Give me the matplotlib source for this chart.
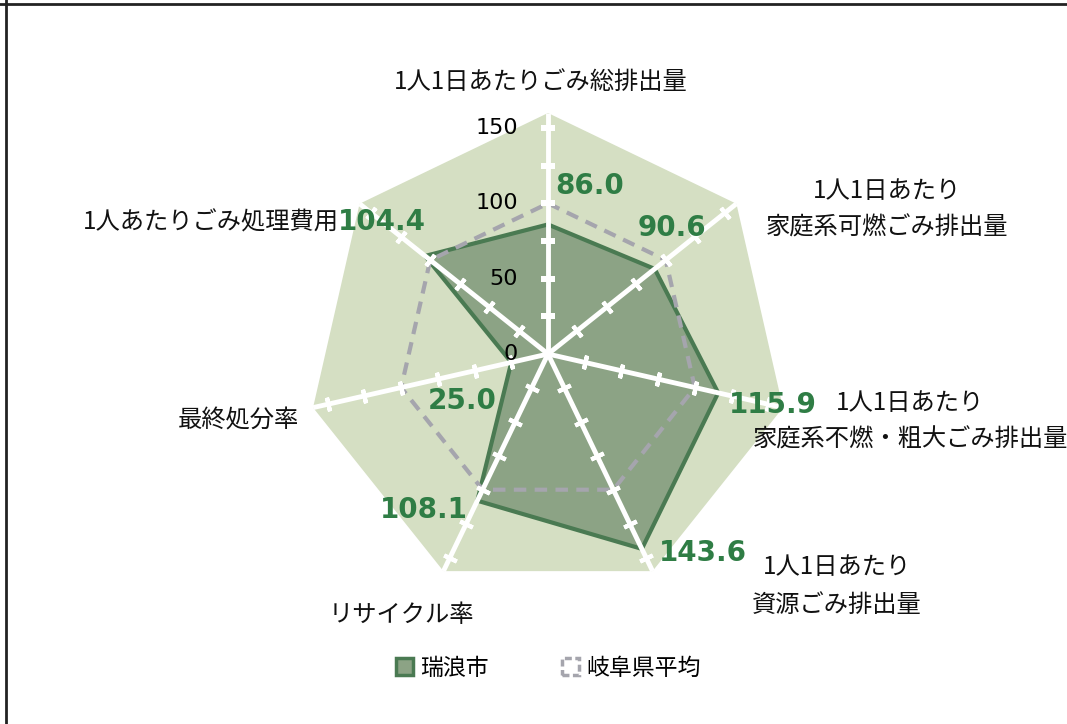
import numpy as np
import matplotlib.pyplot as plt
from matplotlib.lines import Line2D
from matplotlib.patches import Patch

plt.rcParams['font.family'] = ['Noto Sans CJK JP', 'DejaVu Sans']

categories = ['1人1日あたりごみ総排出量', '1人1日あたり\n家庭系可燃ごみ排出量',
              '1人1日あたり\n家庭系不燃・粗大ごみ排出量', '1人1日あたり\n資源ごみ排出量',
              'リサイクル率', '最終処分率', '1人あたりごみ処理費用']
mizunami = [86.0, 90.6, 115.9, 143.6, 108.1, 25.0, 104.4]
gifu_avg = [100, 100, 100, 100, 100, 100, 100]
r_max = 160
tick_vals = [0, 50, 100, 150]
minor_vals = [25, 50, 75, 100, 125, 150]

bg_green = '#d5dfc3'
fill_green = '#8ca385'
edge_green = '#4a7a52'
label_green = '#2f7d45'
dash_grey = '#a5a5ad'

n = len(categories)
theta = np.arange(n) * 2 * np.pi / n
theta_c = np.append(theta, theta[0])

fig = plt.figure(figsize=(10.67, 7.24), dpi=100)
R = 241
ax = fig.add_axes([(548 - R) / 1067, (370 - R) / 724, 2 * R / 1067, 2 * R / 724],
                  projection='polar')
ax.set_theta_offset(np.pi / 2)
ax.set_theta_direction(-1)
ax.set_ylim(0, r_max)
ax.grid(False)
ax.spines['polar'].set_visible(False)
ax.set_xticks([])
ax.set_yticks([])
ax.patch.set_alpha(0)

# outer background heptagon
ax.fill(theta_c, [r_max] * (n + 1), color=bg_green, lw=0, zorder=1)

# series
ax.fill(theta_c, mizunami + mizunami[:1], color=fill_green, zorder=2)
ax.plot(theta_c, mizunami + mizunami[:1], color=edge_green, lw=3, zorder=3)
ax.plot(theta_c, gifu_avg + gifu_avg[:1], color=dash_grey, lw=3,
        dashes=(3, 2), zorder=3)

# axis spokes with tick marks
for i, t in enumerate(theta):
    ax.plot([t, t], [0, r_max], color='white', lw=3.5, zorder=4,
            solid_capstyle='butt')
    ang = 90 - np.degrees(t)
    ax.plot([t] * len(minor_vals), minor_vals, ls='none',
            marker=(2, 2, ang), ms=10, mew=3, color='white', zorder=4)

# radial tick labels
for v in tick_vals:
    ax.annotate(str(v), xy=(0, v), xytext=(-30, 0), textcoords='offset pixels',
                ha='right', va='center', fontsize=16, family='DejaVu Sans',
                color='black', zorder=5)

# data labels
lbl_pos = [(590, 186), (672, 228), (773, 405), (703, 553), (424, 510),
           (462, 401), (382, 222)]
for v, (px, py) in zip(mizunami, lbl_pos):
    fig.text(px / 1067, 1 - py / 724, f'{v:.1f}', ha='center', va='center',
             fontsize=20, fontweight='bold', family='DejaVu Sans',
             color=label_green)

# category labels
cat_pos = [(541, 82), (887, 209), (910, 421), (837, 586), (401, 615),
           (238, 420), (211, 222)]
for c, (px, py) in zip(categories, cat_pos):
    fig.text(px / 1067, 1 - py / 724, c, ha='center', va='center',
             fontsize=17.5, linespacing=1.55, color='#111111')

# legend
handles = [Patch(facecolor=fill_green, edgecolor=edge_green, lw=2.5),
           Patch(facecolor='white', edgecolor=dash_grey, lw=2.5, ls=(0, (2, 1)))]
fig.legend(handles, ['瑞浪市', '岐阜県平均'], loc='center',
           bbox_to_anchor=(548 / 1067, 1 - 668 / 724), ncol=2, frameon=False,
           fontsize=16.5, handlelength=0.75, handleheight=0.75, columnspacing=3.2,
           handletextpad=0.3)

# frame lines (top and left)
fig.add_artist(Line2D([0, 1], [1 - 4 / 724] * 2, color='#222222', lw=2))
fig.add_artist(Line2D([6 / 1067] * 2, [0, 1], color='#222222', lw=2))

fig.savefig('out.png', dpi=100)
